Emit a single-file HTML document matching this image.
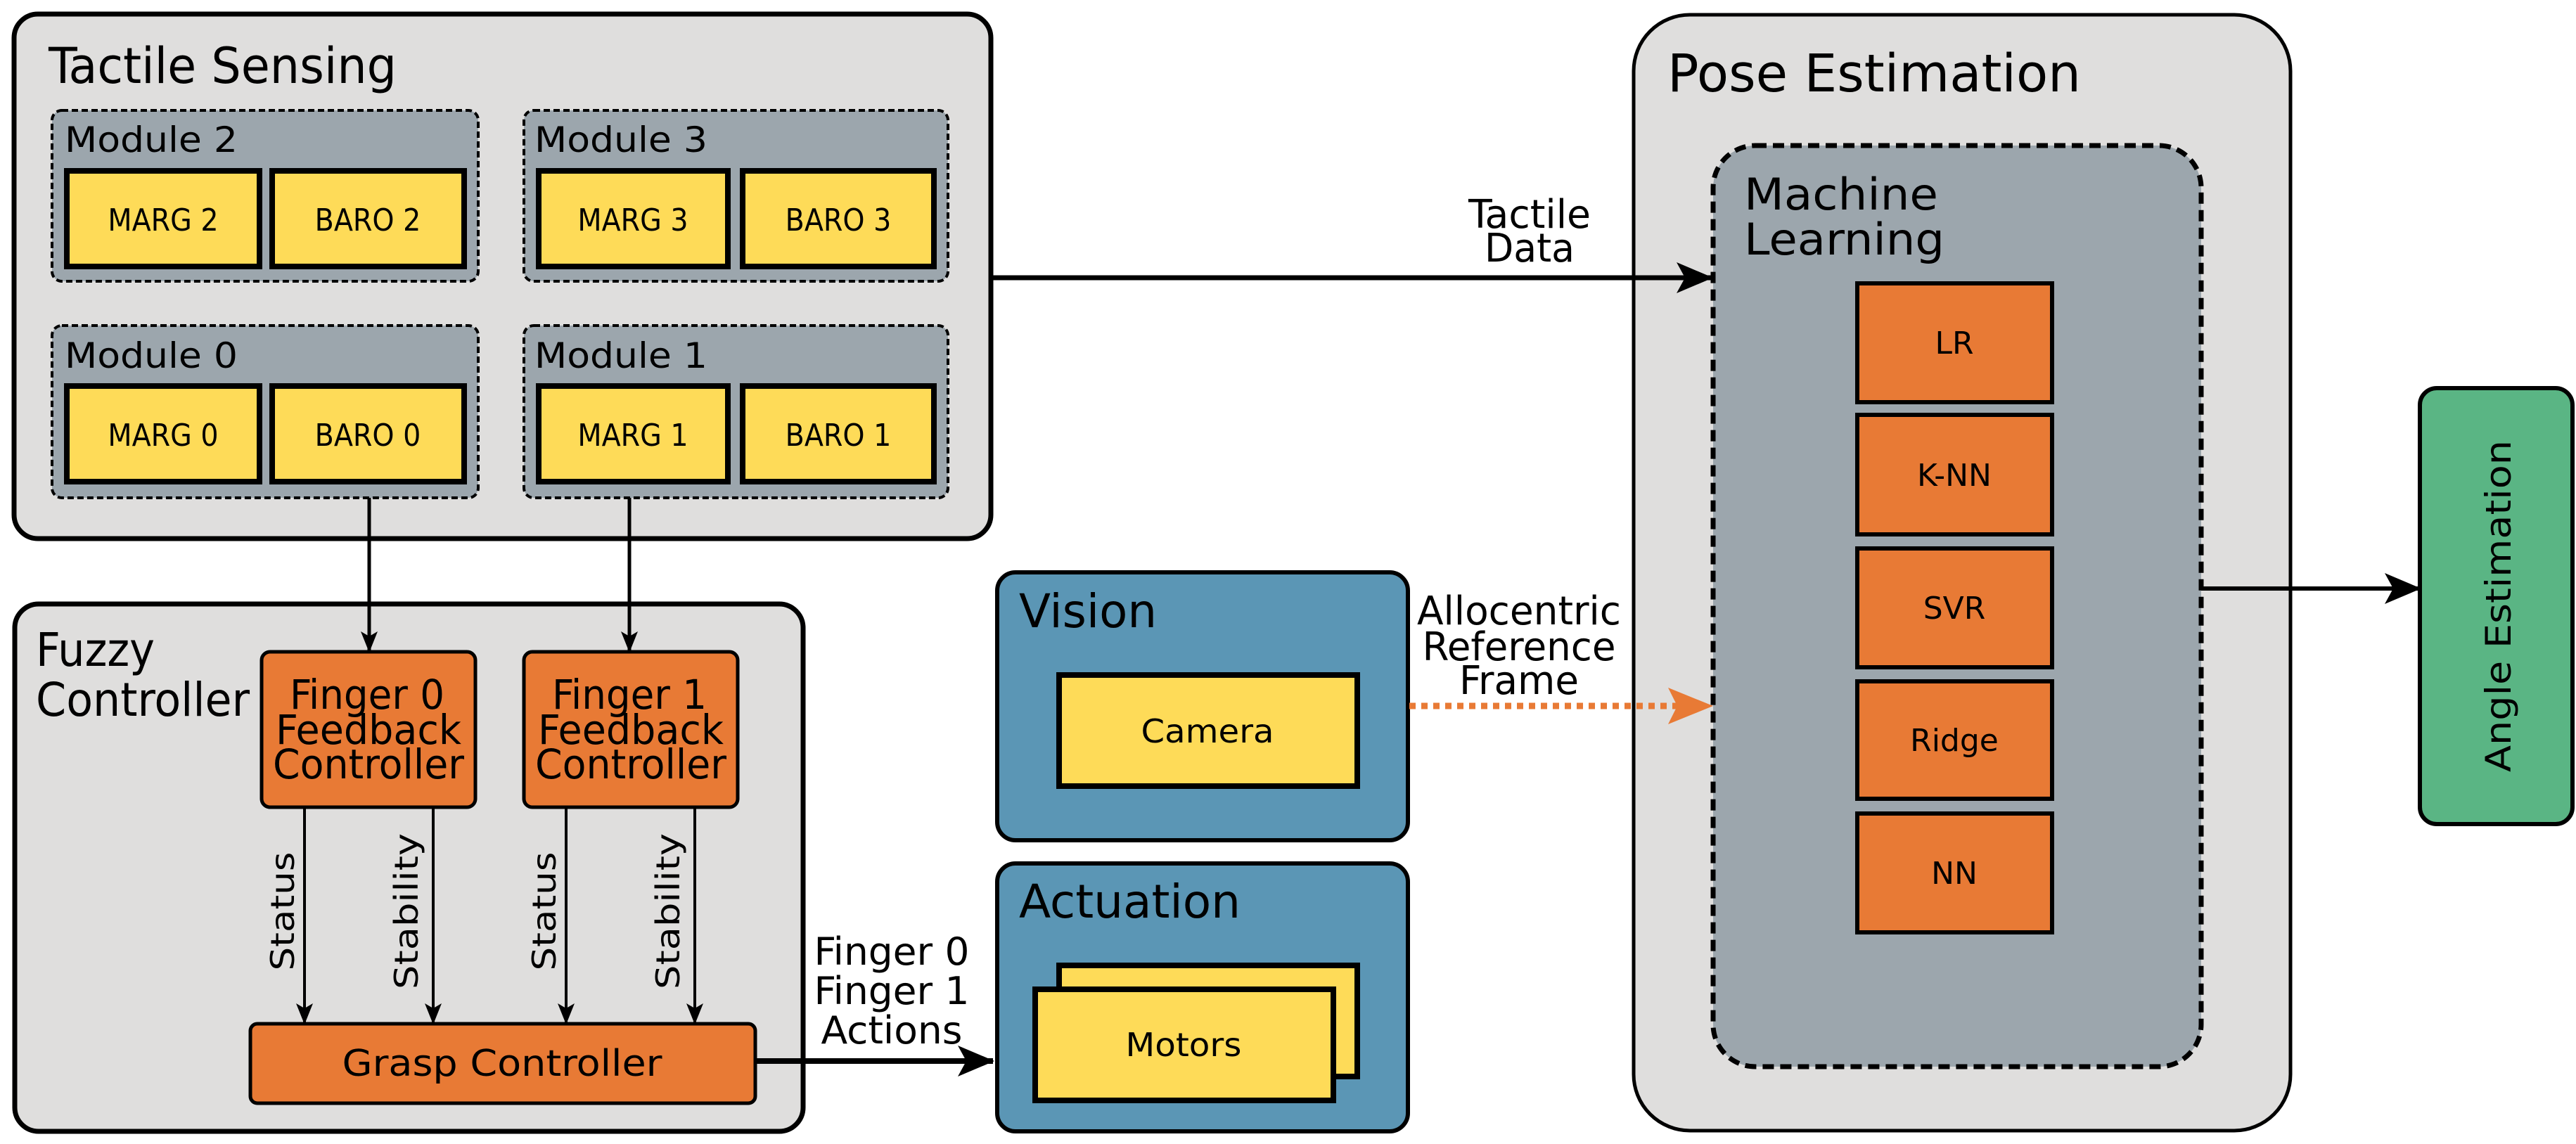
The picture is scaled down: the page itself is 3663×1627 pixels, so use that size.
<!DOCTYPE html>
<html><head><meta charset="utf-8"><style>html,body{margin:0;padding:0;background:#fff}svg{display:block}
text{font-family:"DejaVu Sans Condensed","DejaVu Sans","Liberation Sans",sans-serif;fill:#000}
.w{font-family:"DejaVu Sans","Liberation Sans",sans-serif}</style></head><body>
<svg width="3663" height="1627" viewBox="0 0 3663 1627" xmlns="http://www.w3.org/2000/svg">
<defs>
<marker id="a" markerWidth="52" markerHeight="44" refX="50" refY="22" orient="auto" markerUnits="userSpaceOnUse" viewBox="0 0 52 44"><path d="M0,0 L52,22 L0,44 L12,22z" fill="#000"/></marker>
<marker id="s" markerWidth="30" markerHeight="36" refX="29" refY="12" orient="auto" markerUnits="userSpaceOnUse" viewBox="0 0 30 24"><path d="M0,0 L30,12 L0,24 L7,12z" fill="#000"/></marker>
</defs>
<!-- Tactile Sensing -->
<rect x="20" y="20" width="1389" height="746" rx="34" fill="#dfdedd" stroke="#000" stroke-width="7"/>
<text x="69" y="118" font-size="70" textLength="495" lengthAdjust="spacingAndGlyphs">Tactile Sensing</text>
<g stroke="#000" stroke-width="4" stroke-dasharray="9,5" fill="#9ca6ad">
<rect x="74" y="157" width="606" height="243" rx="14"/>
<rect x="745" y="157" width="603" height="243" rx="14"/>
<rect x="74" y="463" width="606" height="245" rx="14"/>
<rect x="745" y="463" width="603" height="245" rx="14"/>
</g>
<text x="92" y="216" font-size="50" textLength="246" lengthAdjust="spacingAndGlyphs">Module 2</text>
<text x="760" y="216" font-size="50" textLength="246" lengthAdjust="spacingAndGlyphs">Module 3</text>
<text x="92" y="523" font-size="50" textLength="246" lengthAdjust="spacingAndGlyphs">Module 0</text>
<text x="760" y="523" font-size="50" textLength="246" lengthAdjust="spacingAndGlyphs">Module 1</text>
<g fill="#fedb58" stroke="#000" stroke-width="8">
<rect x="95" y="243" width="274" height="136"/><rect x="387" y="243" width="273" height="136"/>
<rect x="766" y="243" width="269" height="136"/><rect x="1056" y="243" width="272" height="136"/>
<rect x="95" y="549" width="274" height="136"/><rect x="387" y="549" width="273" height="136"/>
<rect x="766" y="549" width="269" height="136"/><rect x="1056" y="549" width="272" height="136"/>
</g>
<g font-size="44" text-anchor="middle">
<text x="232" y="328">MARG 2</text><text x="523" y="328">BARO 2</text>
<text x="900" y="328">MARG 3</text><text x="1192" y="328">BARO 3</text>
<text x="232" y="634">MARG 0</text><text x="523" y="634">BARO 0</text>
<text x="900" y="634">MARG 1</text><text x="1192" y="634">BARO 1</text>
</g>
<!-- Fuzzy Controller -->
<rect x="21" y="859" width="1121" height="750" rx="34" fill="#dfdedd" stroke="#000" stroke-width="7"/>
<text x="51" y="947" font-size="66" textLength="169" lengthAdjust="spacingAndGlyphs">Fuzzy</text>
<text x="51" y="1018" font-size="66" textLength="304" lengthAdjust="spacingAndGlyphs">Controller</text>
<line x1="525" y1="708" x2="525" y2="927" stroke="#000" stroke-width="5" marker-end="url(#s)"/>
<line x1="895" y1="708" x2="895" y2="927" stroke="#000" stroke-width="5" marker-end="url(#s)"/>
<g fill="#e87a35" stroke="#000" stroke-width="5">
<rect x="372" y="927" width="304" height="221" rx="12"/>
<rect x="745" y="927" width="304" height="221" rx="12"/>
<rect x="356" y="1456" width="718" height="113" rx="10"/>
</g>
<g font-size="58" text-anchor="middle">
<text x="522" y="1008" textLength="220" lengthAdjust="spacingAndGlyphs">Finger 0</text>
<text x="524" y="1058" textLength="264" lengthAdjust="spacingAndGlyphs">Feedback</text>
<text x="524" y="1107" textLength="272" lengthAdjust="spacingAndGlyphs">Controller</text>
<text x="895" y="1008" textLength="220" lengthAdjust="spacingAndGlyphs">Finger 1</text>
<text x="897" y="1058" textLength="264" lengthAdjust="spacingAndGlyphs">Feedback</text>
<text x="897" y="1107" textLength="272" lengthAdjust="spacingAndGlyphs">Controller</text>
<text x="714" y="1530" font-size="52" textLength="455" lengthAdjust="spacingAndGlyphs">Grasp Controller</text>
</g>
<g stroke="#000" stroke-width="4">
<line x1="433" y1="1148" x2="433" y2="1456" marker-end="url(#s)"/>
<line x1="616" y1="1148" x2="616" y2="1456" marker-end="url(#s)"/>
<line x1="805" y1="1148" x2="805" y2="1456" marker-end="url(#s)"/>
<line x1="988" y1="1148" x2="988" y2="1456" marker-end="url(#s)"/>
</g>
<g font-size="46" text-anchor="middle">
<text class="w" transform="translate(418,1296) rotate(-90)" textLength="169" lengthAdjust="spacingAndGlyphs">Status</text>
<text class="w" transform="translate(594,1296) rotate(-90)" textLength="222" lengthAdjust="spacingAndGlyphs">Stability</text>
<text class="w" transform="translate(790,1296) rotate(-90)" textLength="169" lengthAdjust="spacingAndGlyphs">Status</text>
<text class="w" transform="translate(966,1296) rotate(-90)" textLength="222" lengthAdjust="spacingAndGlyphs">Stability</text>
</g>
<!-- Vision / Actuation -->
<rect x="1418" y="814" width="584" height="381" rx="26" fill="#5b96b5" stroke="#000" stroke-width="6"/>
<rect x="1418" y="1228" width="584" height="381" rx="26" fill="#5b96b5" stroke="#000" stroke-width="6"/>
<text x="1449" y="892" font-size="66" textLength="196" lengthAdjust="spacingAndGlyphs">Vision</text>
<text x="1449" y="1305" font-size="66" textLength="315" lengthAdjust="spacingAndGlyphs">Actuation</text>
<g fill="#fedb58" stroke="#000" stroke-width="8">
<rect x="1506" y="960" width="424" height="158"/>
<rect x="1506" y="1373" width="424" height="158"/>
<rect x="1472" y="1407" width="424" height="158"/>
</g>
<text x="1717" y="1056" font-size="46" text-anchor="middle" textLength="189" lengthAdjust="spacingAndGlyphs">Camera</text>
<text x="1683" y="1502" font-size="46" text-anchor="middle" textLength="165" lengthAdjust="spacingAndGlyphs">Motors</text>
<line x1="1074" y1="1509" x2="1412" y2="1509" stroke="#000" stroke-width="8" marker-end="url(#a)"/>
<g font-size="54" text-anchor="middle">
<text x="1268" y="1372" textLength="221" lengthAdjust="spacingAndGlyphs">Finger 0</text>
<text x="1268" y="1428" textLength="221" lengthAdjust="spacingAndGlyphs">Finger 1</text>
<text x="1268" y="1484" textLength="201" lengthAdjust="spacingAndGlyphs">Actions</text>
</g>
<!-- Pose Estimation -->
<rect x="2323" y="21" width="934" height="1587" rx="80" fill="#dfdedd" stroke="#000" stroke-width="5"/>
<text class="w" x="2371" y="130" font-size="74" textLength="588" lengthAdjust="spacingAndGlyphs">Pose Estimation</text>
<rect x="2436" y="207" width="694" height="1310" rx="60" fill="#9ca6ad" stroke="#000" stroke-width="7" stroke-dasharray="16,9"/>
<text class="w" x="2480" y="298" font-size="62" textLength="276" lengthAdjust="spacingAndGlyphs">Machine</text>
<text class="w" x="2480" y="362" font-size="62" textLength="285" lengthAdjust="spacingAndGlyphs">Learning</text>
<g fill="#e87a35" stroke="#000" stroke-width="6">
<rect x="2641" y="403" width="277" height="169"/>
<rect x="2641" y="590" width="277" height="170"/>
<rect x="2641" y="780" width="277" height="169"/>
<rect x="2641" y="969" width="277" height="167"/>
<rect x="2641" y="1157" width="277" height="169"/>
</g>
<g font-size="44" text-anchor="middle">
<text class="w" x="2779" y="503">LR</text>
<text class="w" x="2779" y="691">K-NN</text>
<text class="w" x="2779" y="880">SVR</text>
<text class="w" x="2779" y="1068">Ridge</text>
<text class="w" x="2779" y="1257">NN</text>
</g>
<!-- arrows right -->
<line x1="1409" y1="395" x2="2434" y2="395" stroke="#000" stroke-width="7" marker-end="url(#a)"/>
<text x="2175" y="324" font-size="56" text-anchor="middle" textLength="174" lengthAdjust="spacingAndGlyphs">Tactile</text>
<text x="2175" y="372" font-size="56" text-anchor="middle" textLength="128" lengthAdjust="spacingAndGlyphs">Data</text>
<line x1="2004" y1="1004" x2="2400" y2="1004" stroke="#e87a35" stroke-width="9" stroke-dasharray="9,8"/>
<path d="M2436,1004 L2372,978 L2385,1004 L2372,1030z" fill="#e87a35"/>
<g font-size="56" text-anchor="middle">
<text x="2160" y="888" textLength="290" lengthAdjust="spacingAndGlyphs">Allocentric</text>
<text x="2160" y="939" textLength="275" lengthAdjust="spacingAndGlyphs">Reference</text>
<text x="2160" y="987" textLength="170" lengthAdjust="spacingAndGlyphs">Frame</text>
</g>
<line x1="3130" y1="837" x2="3441" y2="837" stroke="#000" stroke-width="6" marker-end="url(#a)"/>
<rect x="3441" y="552" width="217" height="620" rx="24" fill="#5ab584" stroke="#000" stroke-width="6"/>
<text class="w" transform="translate(3570,862) rotate(-90)" font-size="50" text-anchor="middle" textLength="472" lengthAdjust="spacingAndGlyphs">Angle Estimation</text>
</svg>
</body></html>
